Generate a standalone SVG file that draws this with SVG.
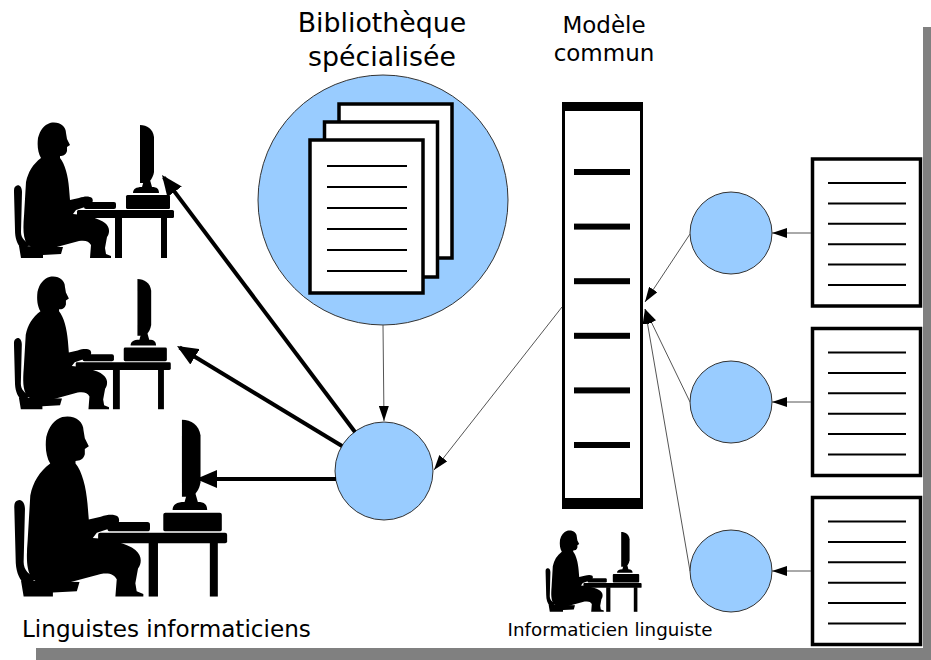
<svg xmlns="http://www.w3.org/2000/svg" xmlns:xlink="http://www.w3.org/1999/xlink" width="931" height="660" viewBox="0 0 931 660">
  <style>
    .lbl { font-family: "DejaVu Sans", Verdana, sans-serif; fill: #000; }
    .node { fill: #99ccff; stroke: #333; stroke-width: 1; }
    .page { fill: #fff; stroke: #000; stroke-width: 3.5; }
    .rule { stroke: #000; stroke-width: 2; }
    .thin { stroke: #555; stroke-width: 1; fill: none; marker-end: url(#ah-thin); }
    .thick { stroke: #000; stroke-width: 4; fill: none; marker-end: url(#ah-thick); }
    .ink { fill: #000; }
  </style>
  <defs>
    <marker id="ah-thin" markerUnits="userSpaceOnUse" markerWidth="15" markerHeight="10" refX="15" refY="5" orient="auto">
      <path d="M0,0 L15,5 L0,10 Z" fill="#000"/>
    </marker>
    <marker id="ah-thick" markerUnits="userSpaceOnUse" markerWidth="21" markerHeight="18" refX="18" refY="9" orient="auto">
      <path d="M0,0 L21,9 L0,18 Z" fill="#000"/>
    </marker>
    <!-- person seated at a computer desk, drawn in a 162 x 138 box -->
    <symbol id="user" overflow="visible">
      <g class="ink">
        <path d="M37 3 C46 1 53 6 53 13 L54 19 L57 25 L54 27 L54 31 C53 35 50 36 47 36 L47 38 C52 44 55 56 56 68 L57 80 L66 78 C72 76 76 76 79 78 C81 81 79 85 75 86 L63 90 L60 94 C72 95 86 98 92 103 C97 107 97 113 94 117 L92 128 L93 134 L98 136 L98 138 L77 138 L78 125 C76 121 72 120 66 121 L40 128 C30 131 20 130 14 124 C10 118 10 108 11 96 L13 62 C15 52 20 44 28 38 C25 33 24 26 25 18 C27 10 31 5 37 3 Z"/>
        <path d="M3 66 C6 64 9 67 9 72 L8 112 C8 118 12 122 18 124 L14 127 L8 128 C4 124 2 118 2 110 L1 72 C1 69 1 67 3 66 Z"/>
        <path d="M6 126 L50 127 L48 134 L30 135 L30 138 L8 138 Z"/>
        <rect x="64" y="90" width="97" height="8" rx="1.5"/>
        <rect x="102" y="97" width="7" height="41"/>
        <rect x="148" y="97" width="6" height="41"/>
        <rect x="71" y="82" width="32" height="7" rx="2"/>
        <rect x="113" y="75" width="44" height="14" rx="1.5"/>
        <path d="M127 5 C134 5 140 9 141 17 L141 52 C140 58 137 62 133 63 L127 63 Z"/>
        <path d="M131 60 L137 60 L139 67 C144 67 146 69 146 73 L120 73 C120 69 123 67 129 67 Z"/>
      </g>
    </symbol>
    <!-- text page with six rules -->
    <g id="doc">
      <rect class="page" x="0" y="0" width="108" height="147"/>
      <path class="rule" d="M15.5 24 H93.5 M15.5 44.4 H93.5 M15.5 64.8 H93.5 M15.5 85.2 H93.5 M15.5 105.6 H93.5 M15.5 126 H93.5"/>
    </g>
  </defs>

  <!-- sheet and drop shadow -->
  <rect x="0" y="0" width="931" height="660" fill="#fff"/>
  <rect x="923" y="27" width="8" height="633" fill="#808080"/>
  <rect x="36" y="648" width="895" height="12" fill="#808080"/>

  <!-- specialised library -->
  <g id="library">
    <circle class="node" cx="383" cy="200" r="125"/>
    <rect class="page" x="339" y="104" width="113" height="154"/>
    <rect class="page" x="324.5" y="122" width="113" height="155"/>
    <rect class="page" x="310" y="140" width="113" height="153"/>
    <path class="rule" d="M327 166 H407 M327 187 H407 M327 208 H407 M327 229 H407 M327 250 H407 M327 271 H407"/>
    <text class="lbl" x="382" y="32" font-size="26.8" text-anchor="middle">Bibliothèque</text>
    <text class="lbl" x="382" y="66" font-size="26.8" text-anchor="middle">spécialisée</text>
  </g>

  <!-- hub feeding the linguists -->
  <g id="hub">
    <circle class="node" cx="384" cy="471" r="49"/>
  </g>

  <!-- common model column -->
  <g id="model">
    <rect x="563.5" y="104" width="78" height="402" fill="#fff" stroke="#000" stroke-width="3"/>
    <rect x="562" y="102" width="81" height="9" fill="#000"/>
    <rect x="562" y="498" width="81" height="11" fill="#000"/>
    <rect x="574" y="169" width="56" height="6"/>
    <rect x="574" y="223.6" width="56" height="6"/>
    <rect x="574" y="278.2" width="56" height="6"/>
    <rect x="574" y="332.8" width="56" height="6"/>
    <rect x="574" y="387.4" width="56" height="6"/>
    <rect x="574" y="442" width="56" height="6"/>
    <text class="lbl" x="604" y="33" font-size="23" text-anchor="middle">Modèle</text>
    <text class="lbl" x="604" y="61" font-size="23" text-anchor="middle">commun</text>
  </g>

  <!-- source nodes -->
  <g id="src1"><circle class="node" cx="731" cy="233" r="41"/></g>
  <g id="src2"><circle class="node" cx="731" cy="402" r="41"/></g>
  <g id="src3"><circle class="node" cx="731" cy="571" r="41"/></g>

  <!-- source documents -->
  <g id="doc1"><use href="#doc" x="812.5" y="159"/></g>
  <g id="doc2"><use href="#doc" x="812.5" y="328.5"/></g>
  <g id="doc3"><use href="#doc" x="812.5" y="497.5"/></g>

  <!-- users -->
  <g id="linguist1"><use href="#user" transform="translate(13,120)"/></g>
  <g id="linguist2"><use href="#user" transform="translate(13,274) scale(0.98)"/></g>
  <g id="linguist3"><use href="#user" transform="translate(13,413) scale(1.33)"/></g>
  <g id="linguists-label">
    <text class="lbl" x="22" y="637" font-size="23.1">Linguistes informaticiens</text>
  </g>
  <g id="engineer">
    <use href="#user" transform="translate(545,529) scale(0.6)"/>
    <text class="lbl" x="610" y="636" font-size="18.3" text-anchor="middle">Informaticien linguiste</text>
  </g>

  <!-- connectors -->
  <g id="connectors">
    <path class="thin" d="M811 233 H772"/>
    <path class="thin" d="M811 402 H772"/>
    <path class="thin" d="M811 571 H772"/>
    <path class="thin" d="M690 234 L645 302"/>
    <path class="thin" d="M690 402 L645 309"/>
    <path class="thin" d="M690 571 L645 309"/>
    <path class="thin" d="M562 307 L434 470"/>
    <path class="thin" d="M383 325 L384 421"/>
    <path class="thick" d="M355 432 L163.8 177.4"/>
    <path class="thick" d="M342 446 L179.6 347.5"/>
    <path class="thick" d="M336 479 L199 479"/>
  </g>
</svg>
